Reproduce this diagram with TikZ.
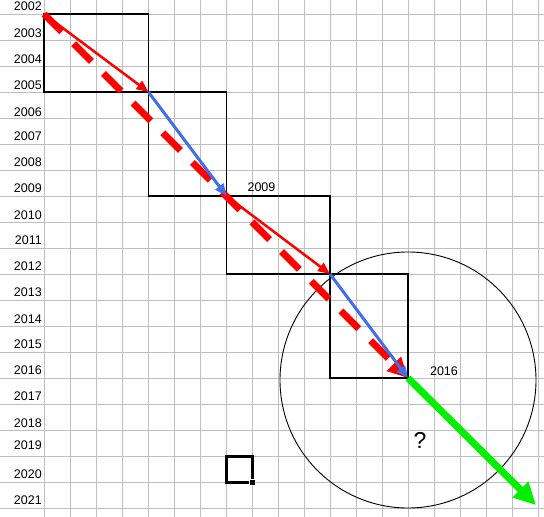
\documentclass[tikz,border=0pt]{standalone}
\usepackage{fontspec}
\setmainfont{Liberation Sans}
\usetikzlibrary{arrows.meta}
\definecolor{gridgray}{RGB}{190,190,190}
\definecolor{myblue}{RGB}{65,110,235}
\definecolor{myred}{RGB}{255,0,0}
\definecolor{mygreen}{RGB}{0,240,0}
\begin{document}
\begin{tikzpicture}[x=1pt,y=-1pt,
  gridline/.style={draw=gridgray,line width=1pt},
  yearlabel/.style={anchor=east,inner sep=0pt,font=\fontsize{12.5}{14}\selectfont},
  plainlabel/.style={inner sep=0pt,font=\fontsize{12.5}{14}\selectfont},
  boxline/.style={draw=black,line width=1.3pt},
  redarrow/.style={draw=myred,line width=2.5pt,-{Triangle[length=12pt,width=10pt]}},
  bluearrow/.style={draw=myblue,line width=3pt,-{Triangle[length=12pt,width=10pt]}},
  dasharrow/.style={draw=myred,line width=7pt,dash pattern=on 25pt off 17pt,-{Triangle[length=20pt,width=19pt]}},
  greenarrow/.style={draw=mygreen,line width=7pt,-{Triangle[length=22pt,width=21pt]}}]
\useasboundingbox (0,0) rectangle (544,517);
\fill[white] (0,0) rectangle (544,517);
\foreach \i in {0,...,19} \draw[gridline] (44+26*\i,0) -- (44+26*\i,517);
\foreach \j in {0,...,19} \draw[gridline] (0,14+26*\j) -- (544,14+26*\j);
\foreach \yr/\yy in {2002/6,2003/33,2004/59,2005/85,2006/112,2007/136,2008/162,2009/188,2010/215,2011/240,2012/266,2013/292,2014/319,2015/344,2016/370,2017/396,2018/423,2019/445,2020/474,2021/500}
  \node[yearlabel] (y\yr) at (42,\yy) {\yr};
\coordinate (p0) at (44,14);
\coordinate (p1) at (148.5,92);
\coordinate (p2) at (226.5,196);
\coordinate (p3) at (330,274);
\coordinate (p4) at (408,378);
\coordinate (p5) at (536,505);
\draw[boxline] (p0) rectangle (p1);
\draw[boxline] (p1) rectangle (p2);
\draw[boxline] (p2) rectangle (p3);
\draw[boxline] (p3) rectangle (p4);
\node[circle,draw=black,line width=0.9pt,minimum size=256pt,inner sep=0pt] (ring) at (408,380) {};
\draw[dasharrow] (p0) -- (p4);
\draw[redarrow] (p0) -- (p1);
\draw[bluearrow] (p1) -- (p2);
\draw[redarrow] (p2) -- (p3);
\draw[bluearrow] (p3) -- (p4);
\draw[greenarrow] (p4) -- (p5);
\node[plainlabel] (t2009) at (261.5,187) {2009};
\node[plainlabel] (t2016) at (444,371) {2016};
\node[inner sep=0pt,font=\fontsize{23}{26}\selectfont] (q) at (420,440) {?};
\draw[draw=black,line width=3pt] (226,456) rectangle (252,482);
\filldraw[fill=black,draw=white,line width=0.8pt] (249,479) rectangle (255.5,485.5);
\end{tikzpicture}
\end{document}
